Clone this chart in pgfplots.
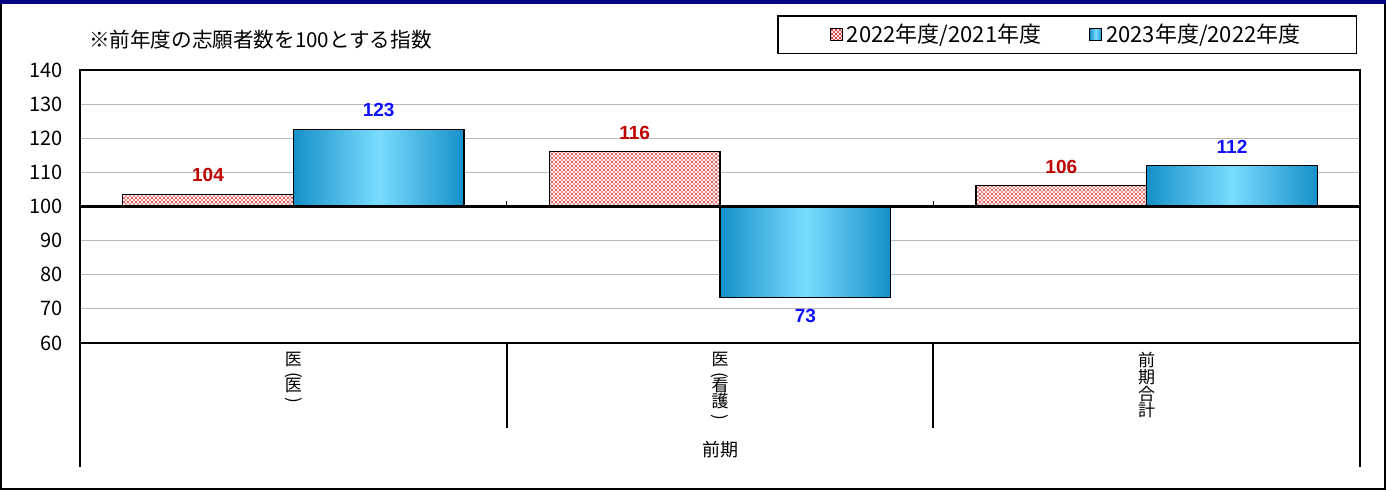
\documentclass[border=0pt]{standalone}
\usepackage{fontspec}
\setmainfont{Noto Sans CJK JP}
\newfontfamily\lib{Liberation Sans}
\usepackage{graphicx}
\usepackage{pgfplots}
\pgfplotsset{compat=1.18}
\usetikzlibrary{patterns}
\definecolor{rlab}{HTML}{C00000}
\definecolor{blab}{HTML}{1010FF}
\definecolor{bdark}{HTML}{1690C8}
\definecolor{blight}{HTML}{7ADCFF}
\definecolor{rdot}{HTML}{D03030}
\definecolor{navyb}{HTML}{000080}
\pgfdeclarepatternformonly{rdots}{\pgfqpoint{-1pt}{-1pt}}{\pgfqpoint{3pt}{3pt}}{\pgfqpoint{2pt}{2pt}}{%
  \pgfpathcircle{\pgfqpoint{0pt}{0pt}}{0.6pt}\pgfusepath{fill}%
  \pgfpathcircle{\pgfqpoint{1pt}{1pt}}{0.4pt}\pgfusepath{fill}}
\newcommand{\vl}{\rotatebox[origin=c]{-90}{(}}
\newcommand{\vr}{\rotatebox[origin=c]{-90}{)}}
\begin{document}
\begin{tikzpicture}
\useasboundingbox (-40pt,-73.5pt) rectangle (653pt,171.5pt);
\begin{axis}[
  scale only axis, width=640pt, height=136.5pt,
  at={(0,0)}, anchor=south west,
  xmin=-0.5, xmax=2.5, ymin=60, ymax=140,
  y coord trafo/.code={\pgfmathparse{#1-100}},
  y coord inv trafo/.code={\pgfmathparse{#1+100}},
  ytick={60,70,...,140},
  yticklabel style={font=\fontsize{10}{12}\selectfont, xshift=-5pt},
  /pgf/number format/assume math mode=true,
  ymajorgrids, grid style={draw=gray!55, line width=0.5pt},
  major tick length=0pt,
  axis line style={line width=1.2pt},
  xtick={0,1,2},
  xticklabels={{医\\[-1pt]\vl\\[-3pt]医\\[-1pt]\vr},{医\\[-1pt]\vl\\[-3pt]看\\護\\[-1pt]\vr},{前\\期\\合\\計}},
  xticklabel style={align=center, font=\fontsize{8.5}{8.4}\selectfont, yshift=-1pt},
  ybar, bar width=0.4,
  nodes near coords, point meta=explicit symbolic,
  every node near coord/.append style={font=\lib\bfseries\fontsize{9.5}{11}\selectfont, yshift=2.5pt},
  legend style={at={(0.998,1.2015)}, anchor=north east, draw=black, line width=0.9pt,
    legend columns=2, font=\fontsize{11}{12}\selectfont, inner xsep=26pt, inner ysep=2pt,
    /tikz/every even column/.append style={column sep=22pt}},
  legend cell align=left,
]
\addplot[bar shift=-0.2, fill=red!5, draw=black, line width=0.6pt,
  postaction={pattern=rdots, pattern color=rdot},
  every node near coord/.append style={text=rlab},
  legend image code/.code={\draw[fill=red!5, line width=0.5pt, postaction={pattern=rdots, pattern color=rdot}] (0pt,-3pt) rectangle (6pt,3pt);}]
  coordinates {(0,103.6) [104] (1,116.1) [116] (2,106.1) [106]};
\addlegendentry{2022年度/2021年度}
\addplot[bar shift=0.2, left color=bdark, right color=bdark, middle color=blight, draw=black, line width=0.6pt,
  every node near coord/.append style={text=blab},
  legend image code/.code={\draw[left color=bdark, right color=bdark, middle color=blight, line width=0.5pt] (0pt,-3pt) rectangle (6pt,3pt);}]
  coordinates {(0,122.6) [123]};
\addlegendentry{2023年度/2022年度}
\addplot[forget plot, bar shift=0.2, left color=bdark, right color=bdark, middle color=blight, draw=black, line width=0.6pt,
  every node near coord/.append style={text=blab, anchor=north, yshift=-5pt}]
  coordinates {(1,73.4) [73]};
\addplot[forget plot, bar shift=0.2, left color=bdark, right color=bdark, middle color=blight, draw=black, line width=0.6pt,
  every node near coord/.append style={text=blab}]
  coordinates {(2,112.0) [112]};
\draw[line width=1.2pt] (axis cs:-0.5,100) -- (axis cs:2.5,100);
\draw[line width=0.8pt] (axis cs:0.5,100) -- (axis cs:0.5,101.5);
\draw[line width=0.8pt] (axis cs:1.5,100) -- (axis cs:1.5,101.5);
\end{axis}
\node[anchor=west, font=\fontsize{10.3}{12}\selectfont] at (1pt,151.5pt) {※前年度の志願者数を100とする指数};
\draw[line width=1pt] (213.33pt,0) -- (213.33pt,-42.5pt);
\draw[line width=1pt] (426.67pt,0) -- (426.67pt,-42.5pt);
\draw[line width=1pt] (0pt,0) -- (0pt,-62pt);
\draw[line width=1pt] (640pt,0) -- (640pt,-62pt);
\node[font=\fontsize{9}{11}\selectfont] at (320pt,-53.5pt) {前期};
\draw[line width=1pt] (-39.5pt,-73pt) rectangle (652.5pt,171pt);
\fill[navyb] (-40pt,171.5pt) rectangle (653pt,169.5pt);
\end{tikzpicture}
\end{document}
